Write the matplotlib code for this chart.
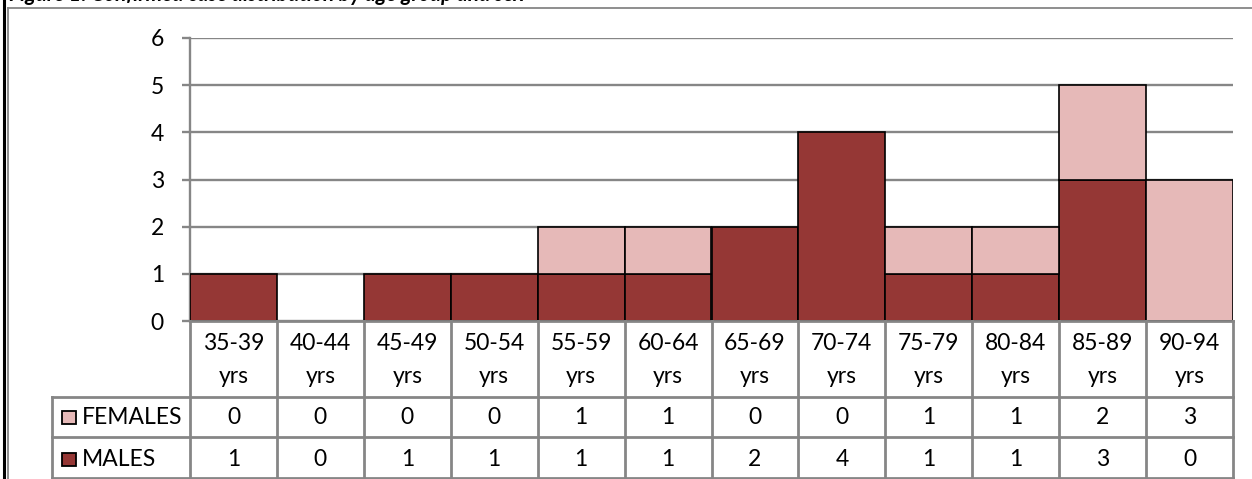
import numpy as np
import matplotlib
matplotlib.use("Agg")
import matplotlib.pyplot as plt
from matplotlib.lines import Line2D
from matplotlib.patches import Rectangle
from matplotlib.transforms import blended_transform_factory

categories = ["35-39", "40-44", "45-49", "50-54", "55-59", "60-64",
              "65-69", "70-74", "75-79", "80-84", "85-89", "90-94"]
females = [0, 0, 0, 0, 1, 1, 0, 0, 1, 1, 2, 3]
males = [1, 0, 1, 1, 1, 1, 2, 4, 1, 1, 3, 0]
yticks = [0, 1, 2, 3, 4, 5, 6]
title = "Figure 1: Confirmed case distribution by age group and sex"

plt.rcParams['font.family'] = ['Lato', 'DejaVu Sans']

W, H = 1252, 479
fig = plt.figure(figsize=(W / 100, H / 100), dpi=100)

def fx(x):
    return x / W

def fy(y):
    return 1 - y / H

AX_L, AX_R, AX_T, AX_B = 190, 1233, 38, 321
ax = fig.add_axes([fx(AX_L), fy(AX_B), (AX_R - AX_L) / W, (AX_B - AX_T) / H])
n = len(categories)
ax.set_xlim(0, n)
ax.set_ylim(0, 6)

MALE_C = '#953735'
FEM_C = '#E6B9B8'
GRID_C = '#868686'

x = np.arange(n) + 0.5
bm = ax.bar(x, males, width=1.0, color=MALE_C, edgecolor='black', linewidth=1.2, zorder=3)
bf = ax.bar(x, females, width=1.0, bottom=males, color=FEM_C, edgecolor='black', linewidth=1.2, zorder=3)
for p in list(bm) + list(bf):
    if p.get_height() == 0:
        p.set_visible(False)

FS = 16.5
ax.set_yticks(yticks)
ax.set_yticklabels([str(t) for t in yticks], fontsize=FS)
ax.set_xticks([])
ax.yaxis.grid(True, color=GRID_C, linewidth=1.7)
ax.set_axisbelow(True)
ax.tick_params(axis='y', length=8 * 0.72, width=1.7, color=GRID_C, pad=13)
for s in ['top', 'right', 'bottom']:
    ax.spines[s].set_visible(False)
ax.spines['left'].set_color(GRID_C)
ax.spines['left'].set_linewidth(1.7)

# Data table below the chart
tr = blended_transform_factory(ax.transData, fig.transFigure)
LW = 2.0
ROW_HDR_B, ROW_F_B, ROW_M_B = 397, 437, 478
TBL_L = 52

def hline(x0px, y):
    fig.add_artist(Line2D([fx(x0px), fx(AX_R)], [fy(y), fy(y)], color=GRID_C, lw=LW, zorder=5))

hline(AX_L, AX_B)
hline(TBL_L, ROW_HDR_B)
hline(TBL_L, ROW_F_B)
hline(TBL_L, ROW_M_B)
for k in range(n + 1):
    fig.add_artist(Line2D([k, k], [fy(AX_B), fy(ROW_M_B)], transform=tr, color=GRID_C, lw=LW, zorder=5))
fig.add_artist(Line2D([fx(TBL_L), fx(TBL_L)], [fy(ROW_HDR_B), fy(ROW_M_B)], color=GRID_C, lw=LW, zorder=5))

for i, c in enumerate(categories):
    fig.text(i + 0.5, fy(350), c, transform=tr, ha='center', va='baseline', fontsize=FS)
    fig.text(i + 0.5, fy(383), "yrs", transform=tr, ha='center', va='baseline', fontsize=FS)
    fig.text(i + 0.5, fy(424), str(females[i]), transform=tr, ha='center', va='baseline', fontsize=FS)
    fig.text(i + 0.5, fy(466), str(males[i]), transform=tr, ha='center', va='baseline', fontsize=FS)

# legend keys in table
for (yb, col, lab) in [(424, FEM_C, "FEMALES"), (466, MALE_C, "MALES")]:
    fig.add_artist(Rectangle((fx(62), fy(yb)), 14 / W, 13 / H, facecolor=col,
                             edgecolor='black', linewidth=1.3, transform=fig.transFigure, zorder=6))
    fig.text(fx(82), fy(yb), lab, ha='left', va='baseline', fontsize=FS)

# outer frame
fig.add_artist(Line2D([fx(4), fx(4)], [0, 1], color='black', lw=2.2, zorder=7))
fig.add_artist(Line2D([fx(8), fx(8)], [0, fy(8)], color=GRID_C, lw=1.3, zorder=7))
fig.add_artist(Line2D([fx(8), 1], [fy(8), fy(8)], color=GRID_C, lw=1.3, zorder=7))

# title, clipped at the top edge as in the reference
fig.text(fx(9), fy(0.8), title, ha='left', va='baseline', fontsize=15,
         fontweight='bold', fontstyle='italic')

fig.savefig("out.png", dpi=100)
